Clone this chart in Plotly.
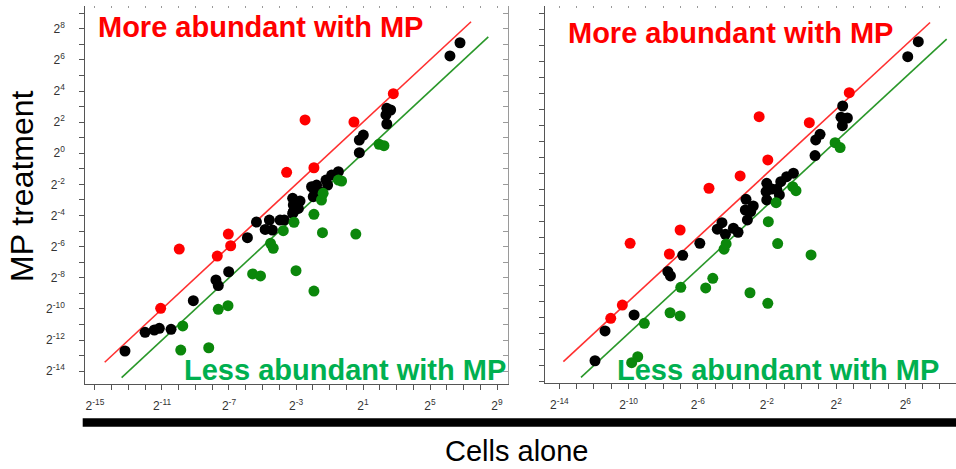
import plotly.graph_objects as go

# ---------------- data (log2 values) ----------------
left_black_x = [-13.21, -12.01, -11.46, -11.16, -10.46, -9.13, -7.78, -7.64, -7.02, -5.90, -5.36, -4.84, -4.59,
                -4.41, -3.95, -3.70, -3.20, -3.16, -2.76, -3.16, -2.86, -3.20, -2.07, -1.77, -1.97, -1.57, -1.87,
                -1.21, -1.11, -0.87, -0.47, 0.78, 0.78, 1.02, 2.42, 2.37, 2.42, 2.65, 6.19, 6.79]
left_black_y = [-12.70, -11.50, -11.35, -11.24, -11.31, -9.47, -8.14, -8.50, -7.61, -5.42, -4.42, -4.89, -4.29,
                -4.93, -4.29, -4.29, -2.89, -3.32, -3.07, -3.75, -3.54, -3.86, -2.15, -2.04, -2.79, -2.47, -2.47,
                -1.72, -2.04, -1.40, -1.18, 0.04, 0.85, 1.17, 1.88, 2.46, 2.89, 2.78, 6.25, 7.10]
left_red_x = [-11.08, -9.97, -7.70, -7.04, -6.90, -3.56, -2.46, -1.93, 0.46, 2.81]
left_red_y = [-9.96, -6.15, -6.60, -5.19, -5.94, -1.22, 2.14, -0.93, 2.01, 3.83]
left_green_x = [-9.88, -9.76, -8.21, -7.64, -7.06, -5.59, -5.12, -4.52, -4.36, -3.76, -3.12, -3.00, -1.93,
                -1.93, -1.42, -1.48, -1.38, -0.47, -0.28, 0.57, 1.96, 2.25]
left_green_y = [-12.64, -11.09, -12.49, -10.02, -9.79, -7.75, -7.88, -5.78, -6.10, -4.97, -4.43, -7.54, -3.92,
                -8.85, -5.10, -3.00, -2.57, -1.72, -1.78, -5.19, 0.58, 0.49]

right_black_x = [-11.94, -11.36, -9.68, -7.73, -7.58, -6.87, -5.88, -4.87, -4.60, -4.40, -3.94, -3.67, -3.21,
                 -3.25, -3.13, -2.79, -2.94, -2.01, -2.05, -2.01, -1.72, -1.43, -1.28, -1.20, -0.86, -0.47,
                 0.78, 0.82, 1.07, 2.38, 2.28, 2.65, 2.36, 6.14, 6.75]
right_black_y = [-12.71, -10.85, -9.85, -7.14, -7.41, -6.12, -5.37, -4.49, -4.08, -4.81, -4.43, -4.68, -2.62,
                 -3.29, -3.91, -3.04, -3.39, -1.62, -2.14, -2.66, -1.98, -1.99, -2.35, -1.52, -1.21, -0.99,
                 0.11, 1.09, 1.44, 3.21, 2.51, 2.46, 1.98, 6.29, 7.23]
right_red_x = [-11.03, -10.36, -9.91, -7.64, -7.02, -5.35, -3.55, -2.45, -1.95, 0.45, 2.76]
right_red_y = [-10.06, -9.23, -5.37, -6.04, -4.54, -1.93, -1.16, 2.54, -0.16, 2.17, 4.04]
right_green_x = [-9.82, -9.47, -9.09, -7.60, -7.02, -6.98, -5.54, -5.13, -4.48, -4.36, -2.98, -1.95, -1.92,
                 -1.47, -1.38, -0.51, -0.32, 0.55, 1.94, 2.23]
right_green_y = [-12.83, -12.46, -10.37, -9.71, -9.91, -8.12, -8.16, -7.56, -5.74, -5.41, -8.46, -9.12, -4.02,
                 -2.83, -5.39, -1.83, -2.08, -6.10, 0.92, 0.61]

# 2-fold threshold lines (y = x +/- 1 in log2), x extents
fold_log2 = 1
left_red_line_x = [-14.42, 7.45]
left_green_line_x = [-13.41, 8.48]
right_red_line_x = [-13.77, 7.43]
right_green_line_x = [-12.75, 8.39]

left_x_labels = [-15, -11, -7, -3, 1, 5, 9]
right_x_labels = [-14, -10, -6, -2, 2, 6]
left_y_labels = [8, 6, 4, 2, 0, -2, -4, -6, -8, -10, -12, -14]

# ---------------- styling ----------------
FONT = "Liberation Sans, Arial, sans-serif"
BLACK = "#000000"
RED = "#ff0000"
GREEN_DOT = "#0b870b"
RED_LINE = "#ff3030"
GREEN_LINE = "#2a982a"
GREEN_TEXT = "#00b050"
AXIS = "#555555"
AXIS_LIGHT = "#9a9a9a"
MS = 11


def pow2(v):
    return "2<sup>%d</sup>" % v


fig = go.Figure()


def add_panel(xa, ya, bx, by, rx, ry, gx, gy, rlx, glx):
    fig.add_trace(go.Scatter(x=rlx, y=[v + fold_log2 for v in rlx], mode="lines",
                             line=dict(color=RED_LINE, width=1.6), xaxis=xa, yaxis=ya, hoverinfo="skip"))
    fig.add_trace(go.Scatter(x=glx, y=[v - fold_log2 for v in glx], mode="lines",
                             line=dict(color=GREEN_LINE, width=1.6), xaxis=xa, yaxis=ya, hoverinfo="skip"))
    fig.add_trace(go.Scatter(x=bx, y=by, mode="markers", marker=dict(color=BLACK, size=MS, line=dict(width=0)),
                             xaxis=xa, yaxis=ya))
    fig.add_trace(go.Scatter(x=rx, y=ry, mode="markers", marker=dict(color=RED, size=MS, line=dict(width=0)),
                             xaxis=xa, yaxis=ya))
    fig.add_trace(go.Scatter(x=gx, y=gy, mode="markers", marker=dict(color=GREEN_DOT, size=MS, line=dict(width=0)),
                             xaxis=xa, yaxis=ya))


add_panel("x", "y", left_black_x, left_black_y, left_red_x, left_red_y, left_green_x, left_green_y,
          left_red_line_x, left_green_line_x)
add_panel("x2", "y2", right_black_x, right_black_y, right_red_x, right_red_y, right_green_x, right_green_y,
          right_red_line_x, right_green_line_x)

# empty traces so that the decorative overlay axes are drawn
fig.add_trace(go.Scatter(x=[], y=[], xaxis="x3", yaxis="y", showlegend=False))
fig.add_trace(go.Scatter(x=[], y=[], xaxis="x", yaxis="y3", showlegend=False))
fig.add_trace(go.Scatter(x=[], y=[], xaxis="x4", yaxis="y2", showlegend=False))

L_XR = [-15.58, 9.64]
L_YR = [-14.82, 9.46]
R_XR = [-14.83, 8.93]
R_YR = [-14.10, 9.46]

tickfont = dict(family=FONT, size=12, color="#333333")
minor = dict(ticks="outside", ticklen=5, tickcolor=AXIS, tickwidth=1, tickmode="linear", tick0=0, dtick=1)
base_ax = dict(showgrid=False, zeroline=False, showline=True, linecolor=AXIS, linewidth=1,
               ticks="outside", ticklen=5, tickcolor=AXIS, tickwidth=1, tickfont=tickfont, fixedrange=True,
               minor=minor)

fig.update_layout(
    width=956, height=469,
    margin=dict(l=0, r=0, t=0, b=0),
    paper_bgcolor="white", plot_bgcolor="white",
    showlegend=False,
    font=dict(family=FONT),
    xaxis=dict(base_ax, domain=[0.0892, 0.5311], range=L_XR, anchor="y",
               tickmode="array", tickvals=left_x_labels,
               ticktext=[pow2(v) for v in left_x_labels], ticklabelstandoff=6),
    yaxis=dict(base_ax, domain=[0.1812, 0.9872], range=L_YR, anchor="x",
               tickmode="array", tickvals=left_y_labels,
               ticktext=[pow2(v) for v in left_y_labels], ticklabelstandoff=12),
    xaxis2=dict(base_ax, domain=[0.5701, 1.0], range=R_XR, anchor="y2",
                tickmode="array", tickvals=right_x_labels,
                ticktext=[pow2(v) for v in right_x_labels], ticklabelstandoff=6),
    yaxis2=dict(base_ax, domain=[0.1834, 0.9872], range=R_YR, anchor="x2",
                tickmode="linear", tick0=0, dtick=1, showticklabels=False),
    xaxis3=dict(overlaying="x", side="top", anchor="y", range=L_XR, showgrid=False, zeroline=False,
                showline=False, ticks="inside", ticklen=2, tickcolor=AXIS_LIGHT, tickmode="linear",
                tick0=0, dtick=1, showticklabels=False, fixedrange=True),
    xaxis4=dict(overlaying="x2", side="top", anchor="y2", range=R_XR, showgrid=False, zeroline=False,
                showline=False, ticks="inside", ticklen=2, tickcolor=AXIS_LIGHT, tickmode="linear",
                tick0=0, dtick=1, showticklabels=False, fixedrange=True),
    yaxis3=dict(overlaying="y", side="right", anchor="x", range=L_YR, showgrid=False, zeroline=False,
                showline=True, linecolor=AXIS_LIGHT, ticks="inside", ticklen=5, tickcolor=AXIS_LIGHT,
                tickmode="linear", tick0=0, dtick=1, showticklabels=False, fixedrange=True),
)

W, H = 956.0, 469.0


def ann(text, px, py, size, color, angle=0):
    fig.add_annotation(text=text, xref="paper", yref="paper", x=px / W, y=1 - py / H,
                       xanchor="center", yanchor="middle", showarrow=False, textangle=angle,
                       font=dict(family=FONT, size=size, color=color))


ann("<b>More abundant with MP</b>", 260, 27, 29, RED)
ann("<b>More abundant with MP</b>", 730.5, 33.5, 29, RED)
ann("<b>Less abundant with MP</b>", 345, 370, 29, GREEN_TEXT)
ann("<b>Less abundant with MP</b>", 777.5, 370, 29, GREEN_TEXT)
ann("MP treatment", 22, 186, 32, "#000000", angle=-90)
ann("Cells alone", 516, 451, 29, "#000000")

# thick black bar above the shared x-axis title
fig.add_shape(type="rect", xref="paper", yref="paper", x0=82.7 / W, x1=1.0,
              y0=1 - 426.7 / H, y1=1 - 418.3 / H, fillcolor="black", line=dict(width=0))

fig.write_html("out.html", config={"displayModeBar": False},
               post_script="document.body.style.margin='0';document.body.style.overflow='hidden';")
